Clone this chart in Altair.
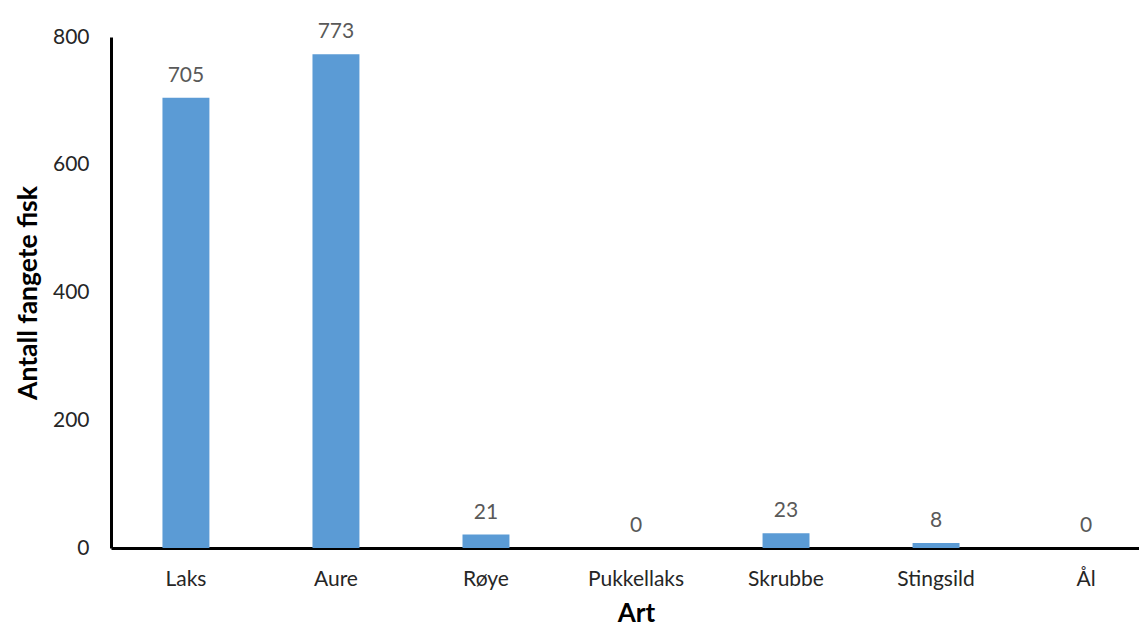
import altair as alt
import pandas as pd

arter = ["Laks", "Aure", "Røye", "Pukkellaks", "Skrubbe", "Stingsild", "Ål"]
antall = [705, 773, 21, 0, 23, 8, 0]

df = pd.DataFrame({"Art": arter, "Antall": antall})

FONT = "Lato"

x = alt.X(
    "Art:N",
    sort=arter,
    title="Art",
    scale=alt.Scale(paddingInner=0.687, paddingOuter=0.343),
    axis=alt.Axis(
        labelAngle=0, labelFont=FONT, labelFontSize=21, labelColor="#262626",
        labelPadding=20, ticks=False, domainColor="#000000", domainWidth=3,
        titleFont=FONT, titleFontSize=26, titleFontWeight="bold", titleColor="#000000",
        titlePadding=11, grid=False,
    ),
)
y = alt.Y(
    "Antall:Q",
    title="Antall fangete fisk",
    scale=alt.Scale(domain=[0, 800], nice=False),
    axis=alt.Axis(
        values=[0, 200, 400, 600, 800], labelFont=FONT, labelFontSize=21,
        labelColor="#262626", labelPadding=22, ticks=False, domainColor="#000000",
        domainWidth=3, grid=False, titleFont=FONT, titleFontSize=26.5,
        titleFontWeight="bold", titleColor="#000000", titlePadding=10,
    ),
)

bars = alt.Chart(df).mark_bar(color="#5B9BD5").encode(x=x, y=y)
labels = alt.Chart(df).mark_text(
    font=FONT, fontSize=21, color="#595959", baseline="alphabetic", dy=-16
).encode(x=x, y=y, text="Antall:Q")

chart = (
    (bars + labels)
    .properties(
        width=1050,
        height=511,
        autosize=alt.AutoSizeParams(type="none"),
        padding={"left": 103, "top": 29, "right": -22, "bottom": 80},
        view=alt.ViewBackground(stroke="transparent", strokeWidth=0),
    )
    .configure_view(stroke="transparent", strokeWidth=0)
    .configure_axis(grid=False)
    .configure(background="white")
)

chart.save("out.html", embed_options={"renderer": "svg", "actions": False})
